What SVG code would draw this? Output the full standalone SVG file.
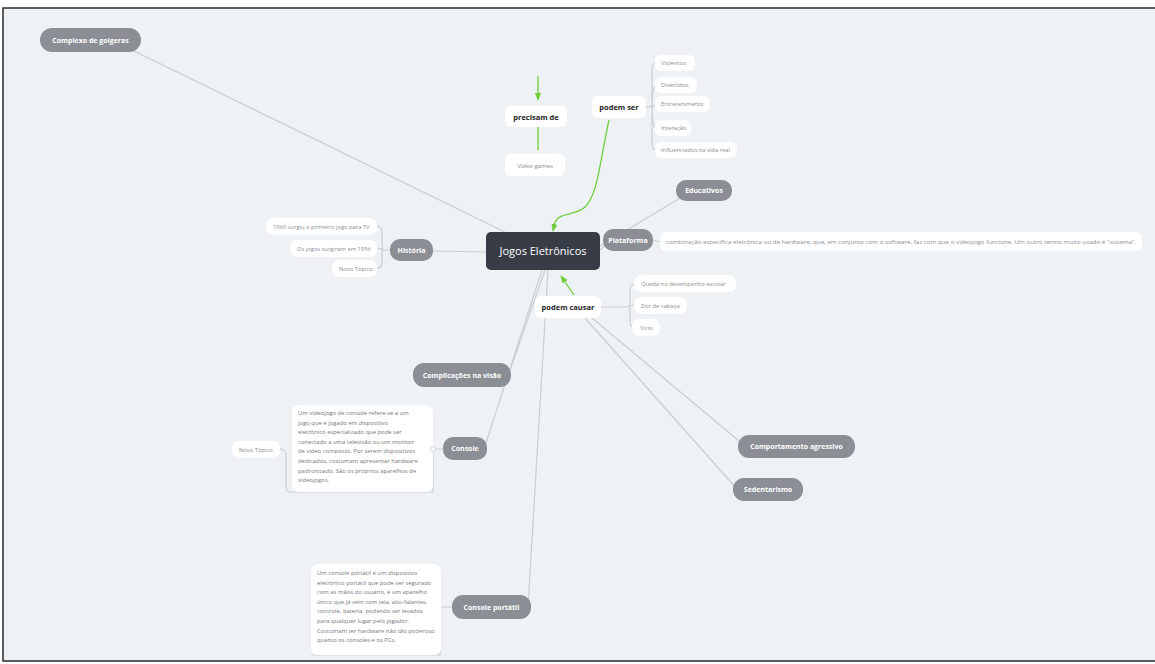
<svg xmlns="http://www.w3.org/2000/svg" width="1155" height="664" viewBox="0 0 1155 664">
<defs>
<style>
.pill{fill:#8b8e95;}
.pt{font-family:"Open Sans","Liberation Sans",sans-serif;font-size:7px;font-weight:bold;fill:#ffffff;text-anchor:middle;}
.wb{fill:#ffffff;}
.bt{font-family:"Open Sans","Liberation Sans",sans-serif;font-size:7.5px;font-weight:bold;fill:#222;text-anchor:middle;}
.st{font-family:"Open Sans","Liberation Sans",sans-serif;font-size:5.8px;fill:#8a8d92;}
.stm{font-family:"Open Sans","Liberation Sans",sans-serif;font-size:6px;fill:#8a8d92;text-anchor:middle;}
.body{font-family:"Open Sans","Liberation Sans",sans-serif;font-size:5.9px;fill:#74777c;}
.ln{fill:none;stroke:#c9ced3;stroke-width:1.2;}
.gl{fill:none;stroke:#6ecf3a;stroke-width:1.3;}
</style>
<marker id="ga" viewBox="0 0 10 10" refX="9" refY="5" markerWidth="6" markerHeight="6" orient="auto-start-reverse">
<path d="M0,1 L10,5 L0,9 Z" fill="#6ecf3a"/>
</marker>
</defs>
<rect x="0" y="0" width="1155" height="664" fill="#ffffff"/>
<rect x="3" y="8" width="1160" height="653" fill="#eef2f5" stroke="#2a2a2a" stroke-width="1.5"/>

<g id="connectors">
<path class="ln" d="M132,50 L505,232"/>
<path class="ln" d="M432,251 L488,252"/>
<path class="ln" d="M600,246 L682,197"/>
<path class="ln" d="M598,252 L607,244"/>
<path class="ln" d="M545,270 L508,376"/>
<path class="ln" d="M542,270 L485,446"/>
<path class="ln" d="M548,270 L528,607"/>
<path class="ln" d="M592,318 L745,446"/>
<path class="ln" d="M585,318 L737,489"/>
<path class="ln" d="M645,107 L650,107 M650,107 Q652,107 652,100 L652,70 Q652,63 657,63 M652,107 Q652,85 657,85 M652,107 L657,104 M652,107 Q652,128 657,128 M652,107 L652,143 Q652,150 657,150"/>
<path class="ln" d="M390,250 L384,250 M384,250 Q382,250 382,243 L382,233 Q382,226 377,226 M384,250 Q380,248 377,248 M382,250 L382,262 Q382,268 377,268"/>
<path class="ln" d="M600,307 L628,307 M628,307 Q630,307 630,300 L630,290 Q630,284 636,284 M630,307 Q630,305 636,305 M630,307 L630,320 Q630,327 633,327"/>
<path class="ln" d="M652,240 L660,242"/>
<path class="ln" d="M443,449 L433,449 M433,449 L433,492 L290,492 M290,492 Q286,492 286,485 L286,456 Q286,449 280,449"/>
<path class="ln" d="M452,607 L440,607 M440,607 L440,655 L312,655"/>
<path class="gl" d="M538,76 L538,100" marker-end="url(#ga)"/>
<path class="gl" d="M538,127 L538,150"/>
<path class="gl" d="M609,120 C600,160 598,195 585,207 C575,216 560,212 555,222 L553,231" marker-end="url(#ga)"/>
<path class="gl" d="M574,295 L561,276" marker-end="url(#ga)"/>
</g>

<g id="center">
<rect x="486" y="232" width="114" height="38" rx="5" fill="#373c46"/>
<text x="543" y="255" font-family="'Open Sans','Liberation Sans',sans-serif" font-size="11" fill="#ffffff" text-anchor="middle">Jogos Eletrônicos</text>
</g>

<g id="complexo">
<rect class="pill" x="40" y="28" width="101" height="24" rx="12"/>
<text class="pt" x="90.5" y="42.5">Complexo de golgeras</text>
</g>

<g id="precisam">
<rect class="wb" x="505" y="106" width="62" height="21" rx="6"/>
<text class="bt" x="536" y="119.5">precisam de</text>
</g>
<g id="videogames">
<rect class="wb" x="505" y="154" width="60" height="22" rx="6"/>
<text class="stm" x="535" y="167.5" font-size="7">Video games</text>
</g>

<g id="podemser">
<rect class="wb" x="592" y="96" width="54" height="22" rx="6"/>
<text class="bt" x="619" y="109.5">podem ser</text>
</g>
<g id="violentos"><rect class="wb" x="655" y="55" width="40" height="16" rx="6"/><text class="st" x="661" y="65">Violentos</text></g>
<g id="divertidos"><rect class="wb" x="655" y="77" width="42" height="16" rx="6"/><text class="st" x="661" y="87">Divertidos</text></g>
<g id="entretenimento"><rect class="wb" x="655" y="96" width="55" height="16" rx="6"/><text class="st" x="661" y="106">Entretenimento</text></g>
<g id="interacao"><rect class="wb" x="655" y="120" width="36" height="16" rx="6"/><text class="st" x="661" y="130">Interação</text></g>
<g id="influenciados"><rect class="wb" x="655" y="142" width="82" height="16" rx="6"/><text class="st" x="661" y="152">Influenciados na vida real</text></g>

<g id="educativos">
<rect class="pill" x="676" y="180" width="56" height="21" rx="10"/>
<text class="pt" x="704" y="193">Educativos</text>
</g>

<g id="plataforma">
<rect class="pill" x="603" y="229" width="50" height="22" rx="10"/>
<text class="pt" x="628" y="242.5">Plataforma</text>
<rect class="wb" x="660" y="232" width="482" height="19" rx="6"/>
<text class="st" x="666" y="244" textLength="470" lengthAdjust="spacingAndGlyphs">combinação específica eletrônica ou de hardware, que, em conjunto com o software, faz com que o videojogo funcione. Um outro termo muito usado é "sistema".</text>
</g>

<g id="historia">
<rect class="pill" x="390" y="239" width="43" height="22" rx="10"/>
<text class="pt" x="411.5" y="252.5">História</text>
</g>
<g id="h1960"><rect class="wb" x="266" y="218" width="111" height="17" rx="7"/><text class="st" x="273" y="228.5">1960 surgiu o primeiro jogo para TV</text></g>
<g id="h1956"><rect class="wb" x="290" y="240" width="87" height="17" rx="7"/><text class="st" x="297" y="250.5">Os jogos surgiram em 1956</text></g>
<g id="hnovo"><rect class="wb" x="332" y="260" width="45" height="17" rx="7"/><text class="st" x="339" y="270.5">Novo Tópico</text></g>

<g id="podemcausar">
<rect class="wb" x="535" y="296" width="66" height="22" rx="6"/>
<text class="bt" x="568" y="309.5">podem causar</text>
</g>
<g id="queda"><rect class="wb" x="634" y="275" width="102" height="17" rx="7"/><text class="st" x="641" y="285.5">Queda no desempenho escolar</text></g>
<g id="dor"><rect class="wb" x="634" y="297" width="53" height="17" rx="7"/><text class="st" x="641" y="307.5">Dor de cabeça</text></g>
<g id="vicio"><rect class="wb" x="632" y="319" width="28" height="17" rx="7"/><text class="st" x="640" y="329.5">Vício</text></g>

<g id="comportamento">
<rect class="pill" x="738" y="435" width="117" height="23" rx="11"/>
<text class="pt" x="796.5" y="449">Comportamento agressivo</text>
</g>
<g id="sedentarismo">
<rect class="pill" x="733" y="478" width="70" height="23" rx="11"/>
<text class="pt" x="768" y="492">Sedentarismo</text>
</g>

<g id="complicacoes">
<rect class="pill" x="413" y="363" width="98" height="24" rx="11"/>
<text class="pt" x="462" y="377.5">Complicações na visão</text>
</g>

<g id="console">
<rect class="pill" x="443" y="437" width="44" height="23" rx="10"/>
<text class="pt" x="465" y="451">Console</text>
<rect class="wb" x="292" y="405" width="141" height="87" rx="7"/>
<text class="body" x="298" y="415">
<tspan x="298" dy="0">Um videojogo de console refere-se a um</tspan>
<tspan x="298" dy="9.6">jogo que é jogado em dispositivo</tspan>
<tspan x="298" dy="9.6">eletrônico especializado que pode ser</tspan>
<tspan x="298" dy="9.6">conectado a uma televisão ou um monitor</tspan>
<tspan x="298" dy="9.6">de vídeo composto. Por serem dispositivos</tspan>
<tspan x="298" dy="9.6">dedicados, costumam apresentar hardware</tspan>
<tspan x="298" dy="9.6">padronizado. São os próprios aparelhos de</tspan>
<tspan x="298" dy="9.6">videojogos.</tspan>
</text>
<circle cx="433" cy="449" r="2.5" fill="#ffffff" stroke="#c9ced3" stroke-width="0.8"/>
</g>
<g id="consolenovo"><rect class="wb" x="232" y="441" width="48" height="17" rx="7"/><text class="st" x="239" y="451.5">Novo Tópico</text></g>

<g id="portatil">
<rect class="pill" x="452" y="595" width="79" height="24" rx="11"/>
<text class="pt" x="491.5" y="609.5">Console portátil</text>
<rect class="wb" x="311" y="564" width="130" height="91" rx="7"/>
<text class="body" x="317" y="575">
<tspan x="317" dy="0">Um console portátil é um dispositivo</tspan>
<tspan x="317" dy="9.6">eletrônico portátil que pode ser segurado</tspan>
<tspan x="317" dy="9.6">com as mãos do usuário, é um aparelho</tspan>
<tspan x="317" dy="9.6">único que já vem com tela, alto-falantes,</tspan>
<tspan x="317" dy="9.6">controle, bateria, podendo ser levados</tspan>
<tspan x="317" dy="9.6">para qualquer lugar pelo jogador.</tspan>
<tspan x="317" dy="9.6">Costumam ter hardware não tão poderoso</tspan>
<tspan x="317" dy="9.6">quanto os consoles e os PCs.</tspan>
</text>
</g>
</svg>
